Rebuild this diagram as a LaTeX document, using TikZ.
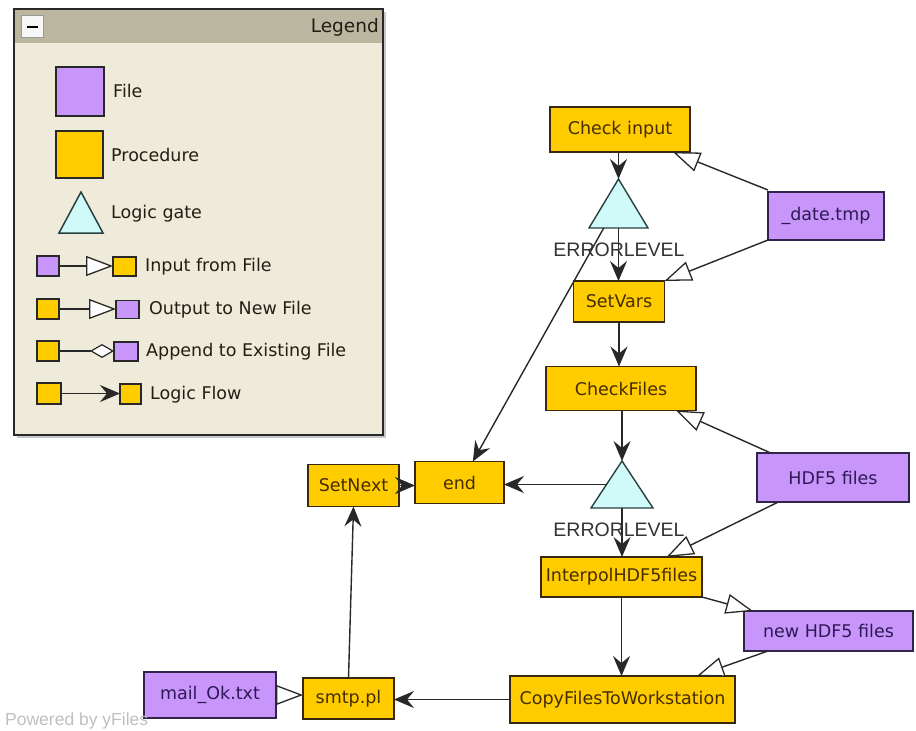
\documentclass[tikz,border=0pt]{standalone}
\usepackage{fontspec}
\setmainfont{DejaVu Sans}
\newfontfamily\arialfont{Liberation Sans}
\usetikzlibrary{arrows.meta,calc}

\definecolor{procfill}{RGB}{255,204,0}
\definecolor{filefill}{RGB}{200,150,250}
\definecolor{gatefill}{RGB}{208,250,250}
\definecolor{legendbg}{RGB}{238,235,219}
\definecolor{legendhead}{RGB}{186,182,160}
\definecolor{framecol}{RGB}{40,40,40}
\definecolor{txtcol}{RGB}{35,30,20}
\definecolor{proctext}{RGB}{70,45,0}
\definecolor{procline}{RGB}{55,40,15}
\definecolor{filetext}{RGB}{45,25,85}
\definecolor{fileline}{RGB}{50,35,75}
\definecolor{gateline}{RGB}{40,64,64}

\tikzset{
  box/.style={line width=1.5pt, inner sep=0pt, outer sep=0pt,
    font=\fontsize{17.5}{20}\selectfont},
  proc/.style={box, draw=procline, fill=procfill, text=proctext},
  file/.style={box, draw=fileline, fill=filefill, text=filetext},
  gatebox/.style={inner sep=0pt, outer sep=0pt},
  gate/.style={draw=gateline, fill=gatefill, line width=1.4pt, line join=miter},
  flow/.style={draw=framecol, line width=1.4pt,
    -{Stealth[length=20pt,width=17pt,inset=7pt]}},
  input/.style={draw=framecol, line width=1.4pt,
    -{Triangle[length=27pt,width=20pt,fill=white,line width=1.3pt]}},
  append/.style={draw=framecol, line width=1.2pt,
    -{Diamond[length=24pt,width=14pt,fill=white,line width=1.2pt]}},
  errlabel/.style={font=\arialfont\fontsize{19.5}{21}\selectfont, text=black!80},
  legtext/.style={anchor=west, font=\fontsize{17.5}{20}\selectfont, text=txtcol, inner sep=0pt},
  legsym/.style={draw=framecol, line width=1.4pt, inner sep=0pt, outer sep=0pt},
}

\begin{document}
\begin{tikzpicture}[x=1pt,y=-1pt]
\useasboundingbox (0,0) rectangle (916,731);

% ---------------- legend panel ----------------
\fill[black!22] (17,12) rectangle (386,438);
\fill[legendbg] (14,9) rectangle (383,435);
\fill[legendhead] (14,9) rectangle (383,43);
\draw[framecol, line width=1.5pt] (14,9) rectangle (383,435);
\node[draw=black!40, fill=black!3, line width=1pt, minimum size=22pt, inner sep=0pt] (minus) at (32,26) {};
\draw[black, line width=2.6pt] (26.5,27) -- (37.5,27);
\node[anchor=east, inner sep=0pt, font=\fontsize{18.5}{20}\selectfont, text=txtcol] (legtitle) at (379,27) {Legend};

\node[legsym, fill=filefill, minimum width=48pt, minimum height=49pt] (lfile) at (80,91.5) {};
\node[legtext] (lfiletxt) at (113,91) {File};
\node[legsym, fill=procfill, minimum width=47pt, minimum height=47pt] (lproc) at (79.5,154.5) {};
\node[legtext] (lproctxt) at (111,155) {Procedure};
\node[gatebox, minimum width=44pt, minimum height=41pt] (lgate) at (81,212.5) {};
\filldraw[gate, line width=1.5pt] (lgate.north) -- (lgate.south west) -- (lgate.south east) -- cycle;
\node[legtext] (lgatetxt) at (111,214) {Logic gate};

% input from file
\node[legsym, fill=filefill, minimum width=22pt, minimum height=20pt] (la1) at (48,266) {};
\node[legsym, fill=procfill, minimum width=23pt, minimum height=19pt] (la2) at (124.5,266.5) {};
\draw[input, line width=1.1pt] (la1.east) -- (la1.east -| la2.west);
\node[legtext] (latxt) at (145,267) {Input from File};
% output to new file
\node[legsym, fill=procfill, minimum width=22pt, minimum height=20pt] (lb1) at (48,309) {};
\node[legsym, fill=filefill, minimum width=23pt, minimum height=18pt] (lb2) at (127.5,309.5) {};
\draw[input, line width=1.1pt] (lb1.east) -- (lb1.east -| lb2.west);
\node[legtext] (lbtxt) at (149,310) {Output to New File};
% append to existing file
\node[legsym, fill=procfill, minimum width=22pt, minimum height=20pt] (lc1) at (48,351) {};
\node[legsym, fill=filefill, minimum width=24pt, minimum height=19pt] (lc2) at (126,351.5) {};
\draw[append] (lc1.east) -- (lc1.east -| lc2.west);
\node[legtext] (lctxt) at (146,352) {Append to Existing File};
% logic flow
\node[legsym, fill=procfill, minimum width=24pt, minimum height=21pt] (ld1) at (49,393.5) {};
\node[legsym, fill=procfill, minimum width=21pt, minimum height=20pt] (ld2) at (130.5,394) {};
\draw[flow, line width=1.1pt] (ld1.east) -- (ld1.east -| ld2.west);
\node[legtext] (ldtxt) at (150,395) {Logic Flow};

% ---------------- procedures ----------------
\node[proc, minimum width=140pt, minimum height=45pt] (check) at (620,129.5) {Check input};
\node[proc, minimum width=91pt, minimum height=41pt] (setvars) at (619,301.5) {SetVars};
\node[proc, minimum width=150pt, minimum height=44pt] (checkfiles) at (621,388.5) {CheckFiles};
\node[proc, minimum width=161pt, minimum height=40pt] (interpol) at (621.5,577) {InterpolHDF5files};
\node[proc, minimum width=225pt, minimum height=47pt] (copy) at (622.5,699.5) {CopyFilesToWorkstation};
\node[proc, minimum width=89pt, minimum height=42pt] (end) at (459.5,482.5) {end};
\node[proc, minimum width=91pt, minimum height=42pt] (setnext) at (353.5,485.5) {SetNext};
\node[proc, minimum width=91pt, minimum height=41pt] (smtp) at (348.5,698.5) {smtp.pl};

% ---------------- files ----------------
\node[file, minimum width=116pt, minimum height=48pt] (date) at (826,216) {\_date.tmp};
\node[file, minimum width=152pt, minimum height=49pt] (hdf) at (833,477.5) {HDF5 files};
\node[file, minimum width=169pt, minimum height=40pt] (newhdf) at (828.5,631) {new HDF5 files};
\node[file, minimum width=132pt, minimum height=46pt] (mail) at (210,695) {mail\_Ok.txt};

% ---------------- logic gates ----------------
\node[gatebox, minimum width=59pt, minimum height=49pt] (g1) at (618.5,203.5) {};
\filldraw[gate] (g1.north) -- (g1.south west) -- (g1.south east) -- cycle;
\node[gatebox, minimum width=62pt, minimum height=47pt] (g2) at (622,484.5) {};
\filldraw[gate] (g2.north) -- (g2.south west) -- (g2.south east) -- cycle;

% connection points on the gate borders
\coordinate (g1out) at ($(g1.south west)!0.25!(g1.south east)$);
\coordinate (g2side) at ($(g2.north)!0.5!(g2.south west)$);

% ---------------- logic flow ----------------
\draw[flow] (check.south -| g1.north) -- (g1.north);
\draw[flow] (g1.south) -- (g1.south |- setvars.north);
\draw[flow] (g1out) -- ($(end.north west)!0.65!(end.north east)$);
\draw[flow] (setvars.south) -- (setvars.south |- checkfiles.north);
\draw[flow] (checkfiles.south -| g2.north) -- (g2.north);
\draw[flow] (g2side) -- (g2side -| end.east);
\draw[flow] (g2.south) -- (g2.south |- interpol.north);
\draw[flow] (interpol.south) -- (interpol.south |- copy.north);
\draw[flow] (copy.west) -- (copy.west -| smtp.east);
\draw[flow] (smtp.north) -- (setnext.south);
\draw[flow] (setnext.east) -- (setnext.east -| end.west);

% ---------------- file input / output ----------------
\draw[input] ($(date.north west)+(0,-2)$) -- ($(check.south west)!0.878!(check.south east)$);
\draw[input] (date.south west) -- (setvars.north east);
\draw[input] ($(hdf.north west)!0.09!(hdf.north east)$) -- ($(checkfiles.south west)!0.867!(checkfiles.south east)$);
\draw[input] ($(hdf.south west)!0.14!(hdf.south east)$) -- ($(interpol.north west)!0.78!(interpol.north east)$);
\draw[input] (interpol.south east) -- ($(newhdf.north west)!0.053!(newhdf.north east)$);
\draw[input] ($(newhdf.south west)!0.142!(newhdf.south east)$) -- ($(copy.north west)!0.831!(copy.north east)$);
\draw[input] (mail.east) -- (mail.east -| smtp.west);

% ---------------- gate labels ----------------
\node[errlabel] (err1) at (619,250) {ERRORLEVEL};
\node[errlabel] (err2) at (619,530) {ERRORLEVEL};

% ---------------- footer ----------------
\node[anchor=west, inner sep=0pt, font=\arialfont\fontsize{17.5}{19}\selectfont, text=black!25] (powered) at (5,721) {Powered by yFiles};
\end{tikzpicture}
\end{document}
